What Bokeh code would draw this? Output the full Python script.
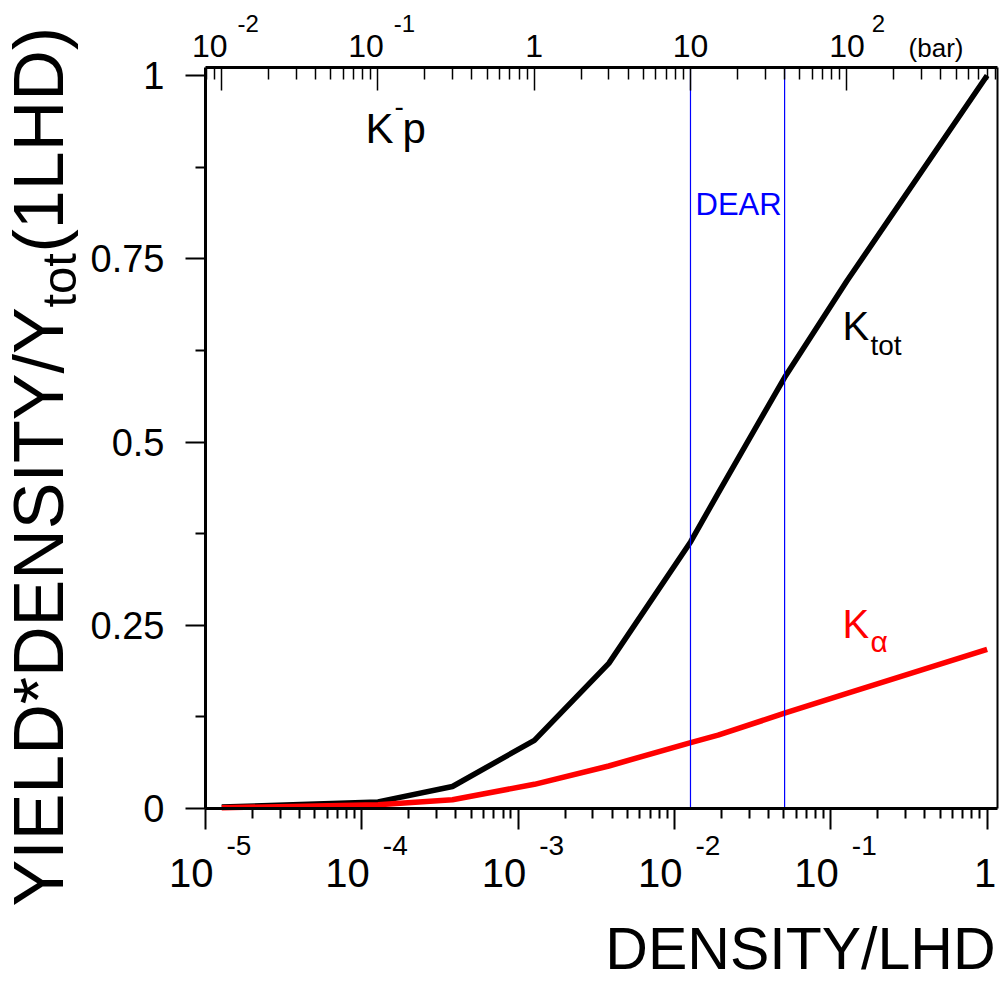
import math
from bokeh.plotting import figure
from bokeh.models import Range1d, LogAxis, LinearAxis, LogScale, FixedTicker, Label
from bokeh.embed import file_html
from bokeh.resources import INLINE

# ---------------- data ----------------
density_lhd = [1.27e-5, 1.27e-4, 3.8e-4, 1.27e-3, 3.8e-3, 1.27e-2, 1.9e-2, 5.06e-2, 0.127, 1.0]
k_tot = [0.002, 0.009, 0.030, 0.093, 0.198, 0.364, 0.43, 0.588, 0.72, 1.0]
k_alpha = [0.001, 0.005, 0.012, 0.033, 0.058, 0.090, 0.100, 0.130, 0.157, 0.217]
bar_per_lhd = 790.0
dear_bar = [10.0, 40.0]

x_ticks = [1e-5, 1e-4, 1e-3, 1e-2, 1e-1, 1.0]
x_tick_exps = ["-5", "-4", "-3", "-2", "-1", ""]
bar_ticks = [1e-2, 1e-1, 1.0, 10.0, 100.0]
bar_tick_exps = ["-2", "-1", "", "", "2"]
y_ticks = [0, 0.25, 0.5, 0.75, 1.0]
y_tick_labels = ["0", "0.25", "0.5", "0.75", "1"]
y_minor = [0.125, 0.375, 0.625, 0.875]

X_START, X_END = 1e-5, 1.165
Y_END = 1.011
FONT = "Liberation Sans"

# ---------------- layout (pixels) ----------------
W, H = 999, 983
FL, FR, FT, FB = 205, 997, 67, 808          # plotting box inside the canvas
DEC = (FR - FL) / math.log10(X_END / X_START)  # px per decade
SY = (FB - FT) / Y_END                        # px per unit
x_lo = X_START * 10 ** (-FL / DEC)
x_hi = X_END * 10 ** ((W - FR) / DEC)
y_lo = -(H - FB) / SY
y_hi = Y_END + FT / SY
BASE = 0.36   # label anchor sits this fraction of the font size above the glyph baseline

x_minor = [m * 10.0 ** k for k in range(-5, 0) for m in range(2, 10)]
bar_minor = [m * 10.0 ** k for k in range(-3, 3) for m in range(2, 10)
             if X_START * bar_per_lhd <= m * 10.0 ** k <= X_END * bar_per_lhd]

p = figure(width=W, height=H, x_axis_type="log", x_axis_location=None, y_axis_location=None,
           x_range=Range1d(x_lo, x_hi), y_range=Range1d(y_lo, y_hi),
           output_backend="svg", toolbar_location=None, min_border=0)
p.title.visible = False
p.grid.visible = False
p.outline_line_color = None
p.background_fill_color = "white"
p.border_fill_color = "white"

# bottom axis
xa = LogAxis(fixed_location=0, bounds=(X_START, X_END),
             ticker=FixedTicker(ticks=x_ticks, minor_ticks=x_minor))
xa.axis_line_width = 3
xa.major_tick_line_width = 2
xa.minor_tick_line_width = 2
xa.major_tick_out = 21
xa.major_tick_in = 0
xa.minor_tick_out = 10
xa.minor_tick_in = 0
xa.major_label_text_color = None
p.add_layout(xa, "below")

# left axis
ya = LinearAxis(fixed_location=X_START, bounds=(0, Y_END),
                ticker=FixedTicker(ticks=y_ticks, minor_ticks=y_minor))
ya.major_label_overrides = {t: s for t, s in zip(y_ticks, y_tick_labels)}
ya.axis_line_width = 3
ya.major_tick_line_width = 2
ya.minor_tick_line_width = 2
ya.major_tick_out = 20
ya.major_tick_in = 0
ya.minor_tick_out = 10
ya.minor_tick_in = 0
ya.major_label_text_font = FONT
ya.major_label_text_font_size = "38px"
ya.major_label_text_color = "black"
ya.major_label_standoff = 21
p.add_layout(ya, "left")

# top axis (pressure in bar)
p.extra_x_ranges = {"bar": Range1d(x_lo * bar_per_lhd, x_hi * bar_per_lhd)}
p.extra_x_scales = {"bar": LogScale()}
ta = LogAxis(x_range_name="bar", fixed_location=Y_END,
             bounds=(X_START * bar_per_lhd, X_END * bar_per_lhd),
             ticker=FixedTicker(ticks=bar_ticks, minor_ticks=bar_minor))
ta.axis_line_width = 3
ta.major_tick_line_width = 1.5
ta.minor_tick_line_width = 1.5
ta.major_tick_in = 23
ta.major_tick_out = 0
ta.minor_tick_in = 12
ta.minor_tick_out = 0
ta.major_label_text_color = None
p.add_layout(ta, "above")

# right frame edge
ra = LinearAxis(fixed_location=X_END, bounds=(0, Y_END), ticker=FixedTicker(ticks=[]))
ra.axis_line_width = 2
ra.major_label_text_color = None
p.add_layout(ra, "right")

# curves
p.line(density_lhd, k_tot, line_color="black", line_width=5.5)
p.line(density_lhd, k_alpha, line_color="red", line_width=5.5)

# DEAR band
p.quad(left=[dear_bar[0] / bar_per_lhd], right=[dear_bar[1] / bar_per_lhd],
       bottom=[0], top=[Y_END], fill_color=None, line_color="blue", line_width=1.2)


def lab(x, y, text, dx, dy, size, color="black", align="left"):
    """label anchored at data coordinates plus pixel offsets (dy = baseline offset)"""
    p.add_layout(Label(x=x, y=y, x_offset=dx, y_offset=dy + BASE * size, text=text,
                       text_font=FONT, text_font_size=f"{size}px", text_color=color,
                       text_align=align, text_baseline="alphabetic"))


def slab(px, py, text, size, color="black", align="left", rotated=False):
    """label whose glyph baseline passes through canvas pixel (px, py)"""
    if rotated:
        x, y, angle = px - BASE * size, H - py, math.pi / 2
    else:
        x, y, angle = px, H - py + BASE * size, 0.0
    p.add_layout(Label(x=x, y=y, x_units="screen", y_units="screen", text=text,
                       text_font=FONT, text_font_size=f"{size}px", text_color=color,
                       text_align=align, text_baseline="alphabetic", angle=angle))


# bottom tick labels
for t, e in zip(x_ticks, x_tick_exps):
    if e:
        lab(t, 0, "10", 8, -79, 40, align="right")
        lab(t, 0, e, 21, -47, 28)
    else:
        lab(t, 0, "1", -2, -79, 40, align="center")

# top tick labels
for t, e in zip(bar_ticks, bar_tick_exps):
    xt = t / bar_per_lhd
    if e:
        neg = e.startswith("-")
        lab(xt, Y_END, "10", 6 if neg else 18, 10, 32, align="right")
        lab(xt, Y_END, e, 16 if neg else 25, 35, 24)
    else:
        lab(xt, Y_END, "1" if t == 1.0 else "10", 0, 10, 32, align="center")
slab(963, 57, "(bar)", 26, align="right")

# axis titles
slab(995, 970, "DENSITY/LHD", 59, align="right")
slab(64, 906, "YIELD*DENSITY/Y", 70, rotated=True)
slab(76, 307, "tot", 49, rotated=True)
slab(64, 252, "(1LHD)", 70, rotated=True)

# in-plot annotations
slab(365, 143, "K", 42)
slab(394, 116, "-", 28)
slab(402, 143, "p", 42)
slab(695, 215, "DEAR", 31, color="blue")
slab(842, 340, "K", 40)
slab(870, 355, "tot", 28)
slab(842, 638, "K", 40, color="red")
slab(870, 652, "\u03b1", 30, color="red")

open("out.html", "w").write(file_html(p, INLINE))
